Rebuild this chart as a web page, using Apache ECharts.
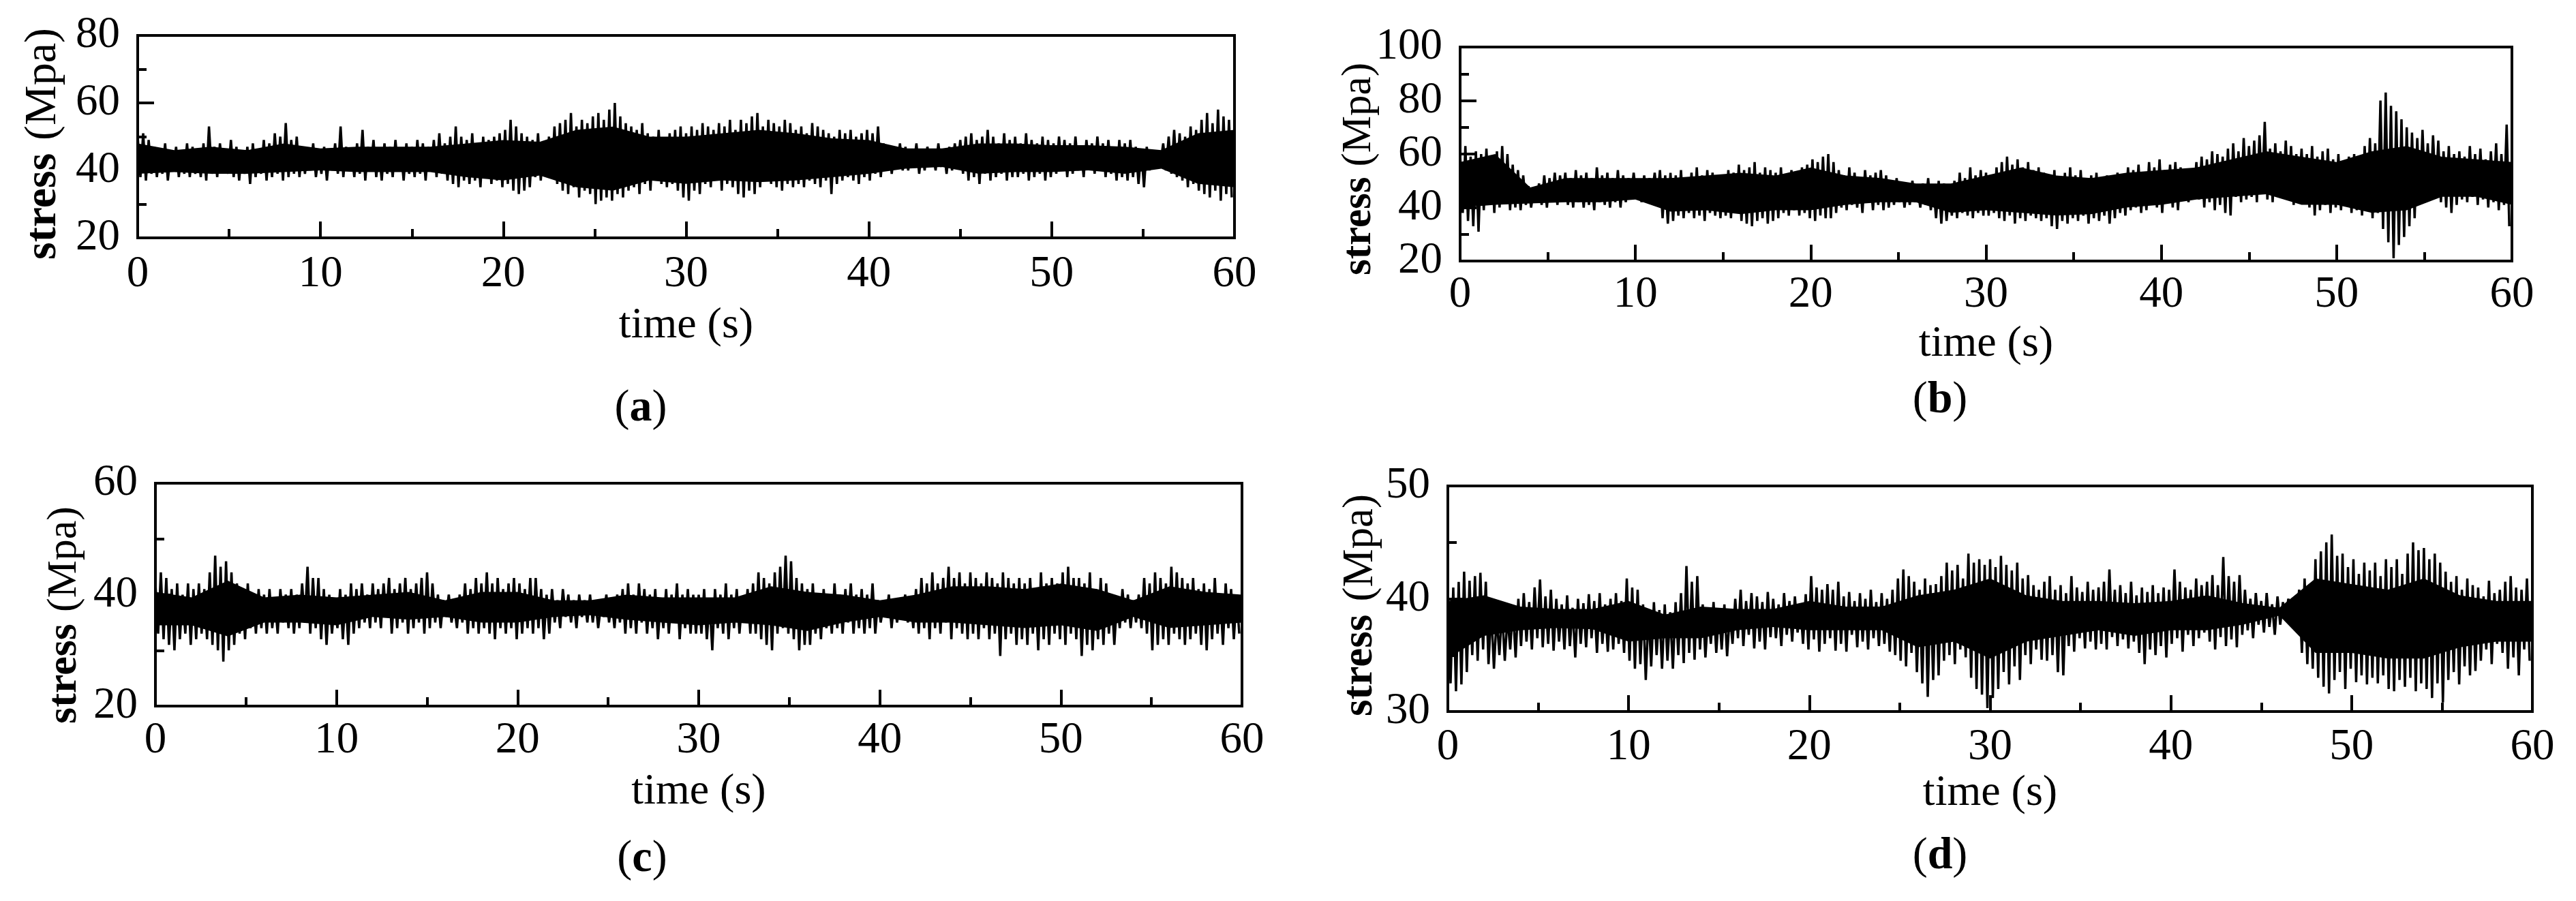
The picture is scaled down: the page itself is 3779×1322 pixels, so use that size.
<!DOCTYPE html>
<html>
<head>
<meta charset="utf-8">
<script src="https://cdn.jsdelivr.net/npm/echarts@6/dist/echarts.min.js"></script>
<style>
html,body{margin:0;padding:0;background:#fff;}
#chart{width:3779px;height:1322px;}
</style>
</head>
<body>
<div id="chart"></div>
<script>
// ---------- data ----------
const panelTags = ['a', 'b', 'c', 'd'];
const xAxisTitle = 'time (s)';
const yAxisTitleBold = 'stress';
const yAxisTitleRest = '(Mpa)';
const timeRange = [0, 60];
const timeInterval = 10;
const yRanges = [[20, 80, 20], [20, 100, 20], [20, 60, 20], [30, 50, 10]];
const sampleStep = 0.3; // s between successive upper/lower extremes
const coreStep = 2;     // s between readings of the solid black core

const hiA = [50,51,49,47,46,48,45,47,46,48, 47,46,48,53,47,48,46,49,47,46, 47,48,46,49,48,51,50,54,49,50, 47,46,48,45,47,46,48,53,47,46,
  48,52,47,49,46,48,47,49,46,48, 47,49,48,47,49,51,48,50,53,50, 49,51,48,50,49,50,51,52,55,53, 51,50,49,51,48,50,53,54,55,57,
  53,55,54,56,57,55,58,60,56,54, 53,52,54,51,50,52,49,51,52,53, 51,53,52,54,53,52,54,53,55,52, 55,54,56,57,53,55,54,53,55,54,
  52,53,51,54,53,52,51,50,52,51, 52,50,51,52,51,53,48,47,46,48, 47,46,48,46,47,45,48,46,47,48, 49,50,51,49,50,52,50,48,51,49,
  50,48,51,49,48,50,49,48,50,49, 48,50,47,49,48,50,48,49,47,49, 48,49,47,46,47,45,46,48,50,52, 51,50,53,52,55,57,54,58,56,55];
const loA = [38,37,39,38,39,37,40,38,39,38, 39,38,37,39,38,40,39,38,37,39, 36,38,39,37,38,39,37,38,39,38, 39,40,38,39,37,40,39,38,40,38,
  39,37,40,38,37,39,38,40,37,39, 38,39,37,40,38,39,37,36,35,37, 36,37,35,38,36,37,35,36,34,33, 34,35,38,37,39,38,36,34,33,35,
  32,34,33,30,31,32,31,33,32,34, 35,33,36,34,37,36,35,36,34,32, 31,34,33,36,35,37,34,36,35,33, 32,34,33,35,37,36,35,34,36,35,
  36,35,37,36,35,37,33,36,37,38, 37,36,38,37,39,38,40,39,41,40, 40,41,39,40,42,40,41,39,40,41, 39,37,38,36,39,37,38,39,37,38,
  38,39,37,38,39,37,38,39,40,38, 39,40,38,41,39,40,38,39,37,38, 37,38,36,35,40,41,42,40,39,38, 37,35,36,34,33,32,34,31,33,32];
const coreTopA = [48,46,47,46,48,46.5,47,47,47,48,49,48.5,52,53,50,50,51,52,51,49.5,49,46.5,46.5,48,48,47.5,47.5,47,46,51,52];
const coreBotA = [39,39.5,39,39,39.5,40,39.5,39.5,39.5,38,37,38.5,35,34,37,36,37,36.5,37,38,39,40.5,41,39,39.5,39.5,40,39,40.5,36,35];

const hiB = [60,63,59,61,60,62,59,61,63,60, 56,54,52,48,47,49,52,51,53,52, 53,51,54,52,53,51,55,52,53,51, 54,52,51,53,50,52,51,53,54,52,
  53,52,54,51,53,55,52,54,53,51, 52,54,53,56,54,55,57,53,55,54, 53,55,52,54,53,55,56,58,57,59, 60,57,54,52,55,53,51,54,52,53,
  54,52,50,51,49,48,50,47,49,51, 48,50,49,47,50,53,51,55,52,54, 53,52,55,57,59,56,58,55,57,54, 55,53,52,54,51,53,55,52,54,51,
  52,53,50,52,51,53,52,55,54,56, 53,57,55,58,54,56,57,55,53,54, 57,59,58,61,60,59,62,64,61,66, 63,65,67,72,62,64,61,65,63,60,
  62,60,63,59,61,62,58,60,57,59, 60,58,63,66,64,80,83,78,76,73, 70,68,66,69,64,67,65,61,63,60, 61,59,63,60,62,58,61,64,60,71];
const loB = [38,35,33,31,39,41,38,40,42,39, 40,39,41,40,42,41,40,42,41,43, 41,40,42,40,41,39,42,41,40,42, 40,42,43,44,42,43,45,43,36,34,
  35,37,36,38,36,37,35,38,37,36, 37,36,38,35,34,33,35,36,34,35, 36,38,37,39,37,38,36,35,37,36, 36,38,40,39,41,40,38,42,39,41,
  39,40,41,42,40,41,42,40,41,39, 36,34,35,37,36,38,37,36,38,37, 37,38,36,35,37,34,36,35,37,36, 35,36,33,32,35,34,36,35,37,34,
  36,35,37,34,36,38,37,39,40,38, 39,41,40,38,42,40,39,43,42,44, 43,40,42,39,41,38,37,44,42,43, 44,42,45,43,42,44,46,43,41,44,
  42,40,37,39,41,38,40,39,41,38, 39,37,40,36,38,32,27,21,26,29, 33,36,42,44,43,45,42,40,38,41, 43,42,44,41,43,40,42,39,41,33];
const coreTopB = [57,60,47.5,51,51,51,51,52,53,52,55,52,51,49,49,52,55,52,51,53,54,55,58,61,59,57,61,63,59,58,57];
const coreBotB = [40,41,41.5,42,42,43,38.5,39,37.5,39,39,41,42,42,38,39,38,37,37.5,40,41,43,44,45,41,41,38,39,44,44,41];

const hiC = [42,44,43,41,42,40,42,41,42,41, 44,47,45,46,44,42,41,42,40,41, 40,41,39,41,40,41,40,42,45,43, 43,41,40,39,41,40,42,41,42,40,
  42,41,42,43,41,42,43,41,42,43, 44,42,40,39,40,38,40,42,41,43, 42,44,42,43,41,42,43,42,41,43, 43,41,40,41,39,41,40,39,40,39,
  40,39,38,40,39,40,41,42,40,42, 41,40,41,39,41,40,42,40,41,40, 40,41,39,41,40,42,40,41,39,41, 42,44,43,42,44,45,47,46,43,42,
  41,42,40,41,39,42,40,41,42,40, 41,40,42,39,38,40,39,38,40,39, 41,43,42,44,42,43,45,43,44,42, 44,43,42,44,43,42,44,43,42,43,
  42,43,41,44,42,43,42,44,45,43, 43,42,44,41,43,42,40,39,41,40, 39,40,43,42,44,43,42,45,44,43, 42,43,41,42,41,43,40,42,41,40];
const loC = [33,32,31,30,32,33,31,32,33,32, 31,30,28,30,31,33,32,34,33,34, 33,34,33,35,34,33,34,35,33,34, 32,31,33,34,32,31,33,34,35,34,
  35,34,36,33,34,35,33,34,35,33, 34,35,34,36,35,34,35,33,34,33, 34,33,32,34,33,34,32,33,34,33, 34,32,33,35,34,36,35,34,36,35,
  35,34,36,35,34,35,33,34,33,35, 33,34,32,34,33,35,32,34,33,33, 33,32,30,34,33,32,34,33,35,33, 33,32,31,30,33,34,33,32,30,31,
  31,33,32,34,33,34,33,35,33,34, 33,34,33,35,36,34,35,36,35,34, 33,34,32,34,33,35,32,34,33,32, 33,32,34,32,33,29,32,33,31,32,
  31,33,30,32,31,33,32,31,33,32, 29,31,30,32,31,33,31,34,35,34, 35,34,33,30,31,32,31,33,32,31, 32,33,31,30,32,33,31,34,32,33];
const coreTopC = [40.5,39.5,42.5,39.5,40,39.5,40,40.5,39,40.5,40.5,39,39,40,39.5,39.5,39.5,41.5,40.5,40,39,40,41.5,41.5,41,42,41,39,41.5,40.5,40];
const coreBotC = [34.5,34.5,32.5,35,35,34.5,36,35.5,36,35,35,36,36.3,35.5,35,34.5,35,34.5,33.5,35,36,35,35,34.5,34,34.5,33.5,36,34,34.5,35];

const hiD = [40.5,41,41.5,42.4,41.6,42,42.3,41.5,39,38.5, 39,38.5,39.2,40,40.5,39.7,41,41.7,40.2,40.8,
  40,39.5,40.3,39.2,40,39.6,40.4,39.8,40.5,39.5, 40,40.5,39.8,41.8,41,40.8,39.5,38.8,39.7,39,
  39.5,38.8,39.7,40.5,42.9,41.5,42,39.5,38.8,39.7, 39,39.5,38.7,40,40.8,39.8,40.5,40.2,39.7,40.6,
  40,39.5,40.5,39.8,40.2,39.6,40.4,42,41,40.8, 41.3,40.8,41.5,40.2,40.6,39.8,40.5,40,40.8,39.7,
  40.5,40,40.8,41.8,42.6,42,41.5,40.8,41.8,41.2, 41.3,42,43.2,42.5,43,41.8,44,43.2,43.5,43,
  43.5,42.8,43.8,43,42.5,43.2,41.8,42.1,41.2,40.8, 41.5,42,40.8,41.2,40.5,42,41,40.6,41.5,40.8,
  41,41.5,42.6,40.8,41.2,40.5,41.5,40.3,41,40.6, 41.2,40.5,41,40.8,42.6,41.5,41,40.8,41.8,41.2,
  41.5,42.1,41.2,43.7,42,41.5,42.1,40.8,40,40.5, 39.8,40.5,39.5,40.2,39.7,40,39.6,40.8,41.8,41.2,
  43.5,44.2,45,45.7,43.8,44,42.8,43.5,42.2,43.2, 42.5,43.2,42,43.5,42.8,43.5,42.2,44,45,44.3,
  44.5,43.5,44,43.2,42.4,41.5,42,40.8,41.8,41.2, 41,40.2,41.6,40.5,40.8,41.5,42,41,40.8,41.8];
const loD = [32.5,31.8,32.4,33.5,35,34.5,35.5,34.2,33.8,35, 34.5,35.5,34.8,35.8,36.2,35.5,36.5,35.7,36,35.4,
  36.2,35.5,35.8,34.8,36,35.7,36.5,35.2,36,35.3, 35.5,36,35.2,34.5,33.8,34.2,32.8,34,35,33.8,
  34.5,33.8,35,34.3,35.2,34.6,35.5,34.8,36,35.2, 35.5,34.9,36,36.5,35.8,36.8,35.6,36.2,35.5,36.6,
  36.5,35.8,36.8,36.2,37,36,35.5,36.4,35.3,36, 36.5,35.4,36,35.3,36.8,35.7,36.2,35.5,36.5,35.8,
  36,35.3,35,34.5,34,35.2,33.5,32.5,31.3,32.8, 33.2,34.5,35,34.2,35.5,34.8,33,32,31.5,30.3,
  31.2,32,33.5,32.4,34,32.8,35,34.2,35.5,34.6, 34.5,35,33.5,33.2,35.8,35.3,36.5,35.6,36.2,35.5,
  36,35.5,36.6,35.8,36.4,35.6,36.2,35.2,34.2,35.5, 35,35.8,34.8,36,36.5,35.3,36.8,35.8,36.5,37,
  36.2,35.5,36.6,35.8,36.4,35.7,36.8,37.2,36.5,37.7, 37,37.5,36.8,37.7,38.3,37.8,38.5,35.2,34.2,33.8,
  33,32.2,31.6,32.8,33.5,32,33.8,32.6,33.2,32.4, 33,32.5,33.2,32,31.8,32.8,32.2,33,31.8,32.5,
  32,31.2,32.5,30.8,32.8,33.5,32.4,34,33.2,33.6, 34.5,35.5,34.2,36,35.2,33.8,34.8,33.2,35.5,34.5];
const coreTopD = [39.8,40.3,39.3,39.1,39.1,39.8,38.6,39.3,39.1,39.1,39.8,39.3,39.3,40.3,40.8,41.8,40.3,39.8,39.8,39.6,39.8,40.3,39.6,39.2,41.8,41.3,40.8,41.8,40.3,39.8,39.8];
const coreBotD = [34.7,36.7,37.2,37.4,37.3,36.2,36.5,36.5,37.2,37.5,37.2,37.2,37.2,35.7,36.2,34.7,36.2,36.7,37.2,36.7,37.2,37.2,37.7,38.5,35.2,35.2,34.7,34.7,35.7,36.2,36.2];

const highs = [hiA, hiB, hiC, hiD];
const lows = [loA, loB, loC, loD];
const coreTops = [coreTopA, coreTopB, coreTopC, coreTopD];
const coreBots = [coreBotA, coreBotB, coreBotC, coreBotD];

// ---------- layout / style ----------
const FONT = 'Liberation Serif';
// yName: [x of text centre line, y where "stress" starts (bottom), y where "(Mpa)" ends (top), font size]
const layout = [
  {left: 202, top: 52, width: 1609, height: 297, xLabelMargin: 21, xNameGap: 97, yName: [64, 381, 41, 66], tag: [940, 600]},
  {left: 2142, top: 69, width: 1543, height: 314, xLabelMargin: 17, xNameGap: 90, yName: [1994, 404, 92, 61], tag: [2846, 588]},
  {left: 228, top: 709, width: 1594, height: 327, xLabelMargin: 18, xNameGap: 94, yName: [95, 1062, 743, 62], tag: [942, 1261]},
  {left: 2124, top: 713, width: 1591, height: 331, xLabelMargin: 20, xNameGap: 88, yName: [1996, 1051, 725, 63], tag: [2846, 1257]}
];

function zigzag(hi, lo) {
  const out = [];
  for (let i = 0; i < hi.length; i++) {
    out.push([i * sampleStep, hi[i]]);
    out.push([i * sampleStep + sampleStep / 2, lo[i]]);
  }
  return out;
}

const black = '#000';
const tickStyle = {color: black, width: 4};

const graphics = [];
layout.forEach((l, i) => {
  graphics.push({
    type: 'text', x: l.tag[0], y: l.tag[1], z: 10,
    style: {
      text: '{p|(}{b|' + panelTags[i] + '}{p|)}',
      rich: {
        p: {fontFamily: FONT, fontSize: 66, fill: black},
        b: {fontFamily: FONT, fontSize: 66, fontWeight: 'bold', fill: black}
      },
      fontFamily: FONT, fontSize: 66, fill: black, textAlign: 'center', textVerticalAlign: 'middle'
    }
  });
  const [nx, nStart, nEnd, ns] = l.yName;
  graphics.push({
    type: 'text', x: nx, y: nStart, rotation: Math.PI / 2, z: 10,
    style: {
      text: yAxisTitleBold, font: 'bold ' + ns + 'px "' + FONT + '"', fill: black,
      textAlign: 'left', textVerticalAlign: 'middle'
    }
  });
  graphics.push({
    type: 'text', x: nx, y: nEnd, rotation: Math.PI / 2, z: 10,
    style: {
      text: yAxisTitleRest, font: 'normal ' + ns + 'px "' + FONT + '"', fill: black,
      textAlign: 'right', textVerticalAlign: 'middle'
    }
  });
});

const series = [];
highs.forEach((hi, i) => {
  series.push({
    type: 'line', xAxisIndex: i, yAxisIndex: i,
    data: coreTops[i].map((v, k) => [k * coreStep, v]),
    showSymbol: false, symbol: 'none', silent: true, clip: true,
    lineStyle: {width: 0, opacity: 0}, areaStyle: {color: black, opacity: 1, origin: 'start'}, z: -2
  });
  series.push({
    type: 'line', xAxisIndex: i, yAxisIndex: i,
    data: coreBots[i].map((v, k) => [k * coreStep, v]),
    showSymbol: false, symbol: 'none', silent: true, clip: true,
    lineStyle: {width: 0, opacity: 0}, areaStyle: {color: '#fff', opacity: 1, origin: 'start'}, z: -1
  });
  series.push({
    type: 'line', xAxisIndex: i, yAxisIndex: i,
    data: zigzag(hi, lows[i]),
    showSymbol: false, symbol: 'none', silent: true, clip: true,
    lineStyle: {color: black, width: 3.5}, z: 2
  });
});

const option = {
  backgroundColor: '#fff',
  animation: false,
  grid: layout.map(l => ({
    left: l.left, top: l.top, width: l.width, height: l.height,
    show: true, borderColor: black, borderWidth: 4, backgroundColor: 'transparent',
    containLabel: false, outerBoundsMode: 'none'
  })),
  xAxis: layout.map((l, i) => ({
    type: 'value', gridIndex: i, min: timeRange[0], max: timeRange[1], interval: timeInterval,
    name: xAxisTitle, nameLocation: 'middle', nameGap: l.xNameGap,
    nameTextStyle: {fontFamily: FONT, fontSize: 64, color: black},
    axisLine: {show: true, onZero: false, lineStyle: {color: black, width: 4}},
    axisTick: {show: true, inside: true, length: 24, lineStyle: tickStyle},
    minorTick: {show: true, splitNumber: 2, length: 13, lineStyle: tickStyle},
    axisLabel: {fontFamily: FONT, fontSize: 65, color: black, margin: l.xLabelMargin},
    splitLine: {show: false}, minorSplitLine: {show: false}
  })),
  yAxis: layout.map((l, i) => ({
    type: 'value', gridIndex: i, min: yRanges[i][0], max: yRanges[i][1], interval: yRanges[i][2],
    axisLine: {show: true, onZero: false, lineStyle: {color: black, width: 4}},
    axisTick: {show: true, inside: true, length: 24, lineStyle: tickStyle},
    minorTick: {show: true, splitNumber: 2, length: 13, lineStyle: tickStyle},
    axisLabel: {fontFamily: FONT, fontSize: 65, color: black, margin: 26},
    splitLine: {show: false}, minorSplitLine: {show: false}
  })),
  series: series,
  graphic: graphics
};

const chart = echarts.init(document.getElementById('chart'), null, {renderer: 'canvas'});
chart.setOption(option);
</script>
</body>
</html>
